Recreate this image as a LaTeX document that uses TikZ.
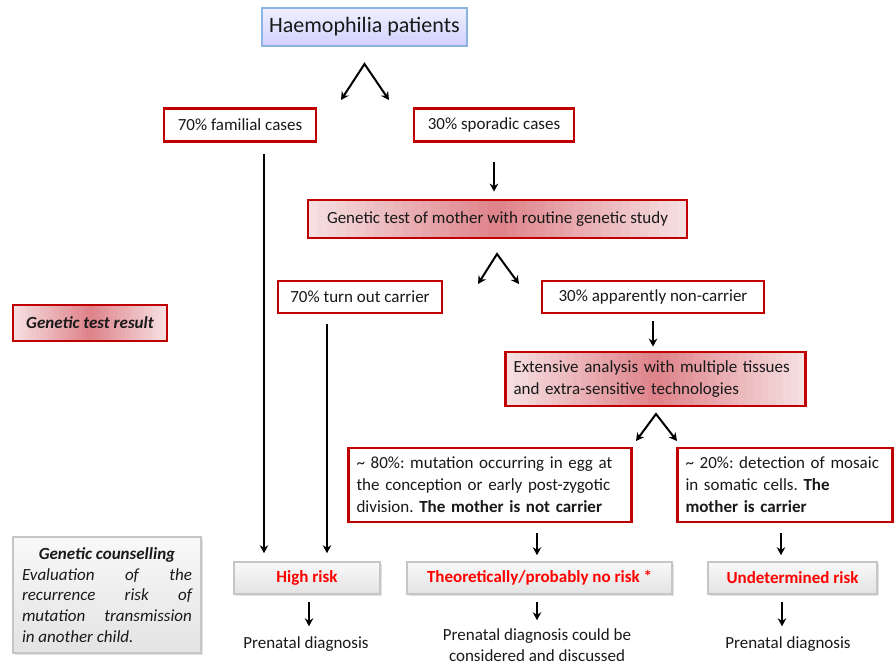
\documentclass[tikz,border=0pt]{standalone}
\usepackage{fontspec}
\setmainfont{Carlito}
\usetikzlibrary{arrows,arrows.meta,positioning,shadows,calc}

\definecolor{boxred}{RGB}{192,0,0}
\definecolor{riskred}{RGB}{255,0,0}
\definecolor{pinkmid}{RGB}{222,130,137}
\definecolor{pinkedge}{RGB}{246,223,225}
\definecolor{titleblue}{RGB}{141,179,226}

\begin{document}
\begin{tikzpicture}[x=1pt, y=-1pt, ->, >={Stealth[length=8pt,width=8.5pt]}, line width=2pt, line join=miter,
    every node/.style={font=\fontsize{17}{22}\selectfont\frenchspacing, text=black!90},
    redbox/.style={draw=boxred, line width=2.8pt, fill=white, minimum height=33pt, inner xsep=8pt},
    redshade/.style={redbox, path picture={
        \foreach \i in {0,...,39} {
          \pgfmathsetmacro\p{100-abs(\i-19.5)/19.5*100}
          \pgfmathsetmacro\fa{\i/40}
          \pgfmathsetmacro\fb{(\i+1.4)/40}
          \fill[pinkmid!\p!pinkedge, draw=none]
            ($(path picture bounding box.south west)!\fa!(path picture bounding box.south east)$)
            rectangle ($(path picture bounding box.north west)!\fb!(path picture bounding box.north east)$);
        }}},
    riskbox/.style={draw=gray!45, line width=1.6pt, top color=gray!5, bottom color=gray!22,
        drop shadow={shadow xshift=2pt, shadow yshift=-2pt, fill=gray!45},
        minimum height=32pt, text=riskred, font=\fontsize{17}{22}\selectfont\bfseries},
    titlebox/.style={draw=titleblue, line width=2pt, top color=blue!6, bottom color=blue!18,
        minimum height=38pt, font=\fontsize{22}{26}\selectfont}
    ]
\useasboundingbox (0,0) rectangle (896,664);

% top level
\node[titlebox, minimum width=205pt] (pat) at (364.5,27) {Haemophilia patients};
\node[redbox, minimum width=152pt] (fam) at (240,125) {70\% familial cases};
\node[redbox, minimum width=160pt] (spor) at (494,125) {30\% sporadic cases};
\node[redshade, minimum width=379pt, minimum height=38pt] (gen) at (497.5,219) {Genetic test of mother with routine genetic study};

% test result
\node[redbox, minimum width=164pt, minimum height=32pt] (carr) at (360,297) {70\% turn out carrier};
\node[redbox, minimum width=222pt, minimum height=32pt] (non) at (653,297) {30\% apparently non-carrier};
\node[redshade, minimum width=154pt, minimum height=36pt, font=\fontsize{17}{22}\selectfont\bfseries\itshape] (res) at (90,323) {Genetic test result};
\node[redshade, text width=284pt, align=left, minimum height=54pt] (ext) at (655.5,379)
    {Extensive analysis with multiple tissues\\and extra-sensitive technologies};
\node[redbox, text width=267pt, align=left, minimum height=74pt] (m80) at (490,485)
    {\textasciitilde{} 80\%: mutation occurring in egg at\\the conception or early post-zygotic\\division. \textbf{The mother is not carrier}};
\node[redbox, text width=199pt, align=left, minimum height=74pt] (m20) at (785,485)
    {\textasciitilde{} 20\%: detection of mosaic\\in somatic cells. \textbf{The}\\\textbf{mother is carrier}};

% counselling
\node[riskbox, minimum width=146pt] (high) at (307,578) {High risk};
\node[riskbox, minimum width=265pt] (theo) at (539.5,578) {Theoretically/probably no risk *};
\node[riskbox, text=black!90, text width=170pt, align=justify, inner xsep=9pt, inner ysep=6pt,
    minimum height=116pt, font=\fontsize{17}{20.8}\selectfont\itshape\frenchspacing] (couns) at (107,595)
    {\begingroup\centering\bfseries Genetic counselling\par\endgroup
     Evaluation of the\linebreak recurrence risk of\linebreak mutation transmission\linebreak in another child.};
\node[riskbox, minimum width=169pt] (und) at (792.5,578) {Undetermined risk};

\node (pd1) at (306,644) {Prenatal diagnosis};
\node[align=center, font=\fontsize{17}{21}\selectfont] (pd2) at (537,645) {Prenatal diagnosis could be\\considered and discussed};
\node (pd3) at (788,644) {Prenatal diagnosis};

% splits
\coordinate (s1) at (364.5,64);
\coordinate (s1l) at (341,100);
\coordinate (s1r) at (389,100);
\coordinate (s2) at (497,254);
\coordinate (s2l) at (478,284);
\coordinate (s2r) at (519,284);
\coordinate (s3) at (656,414);
\coordinate (s3l) at (636,441);
\coordinate (s3r) at (677,441);
\draw[<->] (s1l) -- (s1) -- (s1r);
\draw[<->] (s2l) -- (s2) -- (s2r);
\draw[<->] (s3l) -- (s3) -- (s3r);

% vertical arrows
\draw[shorten <=11pt, shorten >=8pt] ([xshift=24pt]fam.south) -- ([xshift=24pt]fam.south |- high.north);
\draw[shorten <=10pt, shorten >=8pt] ([xshift=-33pt]carr.south) -- ([xshift=-33pt]carr.south |- high.north);
\draw[shorten <=19pt, shorten >=7pt] (spor.south) -- (spor.south |- gen.north);
\draw[shorten <=7pt, shorten >=4pt] (non.south) -- (non.south |- ext.north);
\draw[shorten <=10pt, shorten >=6pt] ([xshift=-2.5pt]theo.north |- m80.south) -- ([xshift=-2.5pt]theo.north);
\draw[shorten <=10pt, shorten >=6pt] ([xshift=-11.5pt]und.north |- m20.south) -- ([xshift=-11.5pt]und.north);
\draw[shorten <=7pt, shorten >=6pt] ([xshift=2pt]high.south) -- ([xshift=2pt]high.south |- pd1.north);
\draw[shorten <=7pt, shorten >=4pt] ([xshift=-2.5pt]theo.south) -- ([xshift=-2.5pt]theo.south |- pd2.north);
\draw[shorten <=7pt, shorten >=6pt] ([xshift=-10.5pt]und.south) -- ([xshift=-10.5pt]und.south |- pd3.north);
\end{tikzpicture}
\end{document}
